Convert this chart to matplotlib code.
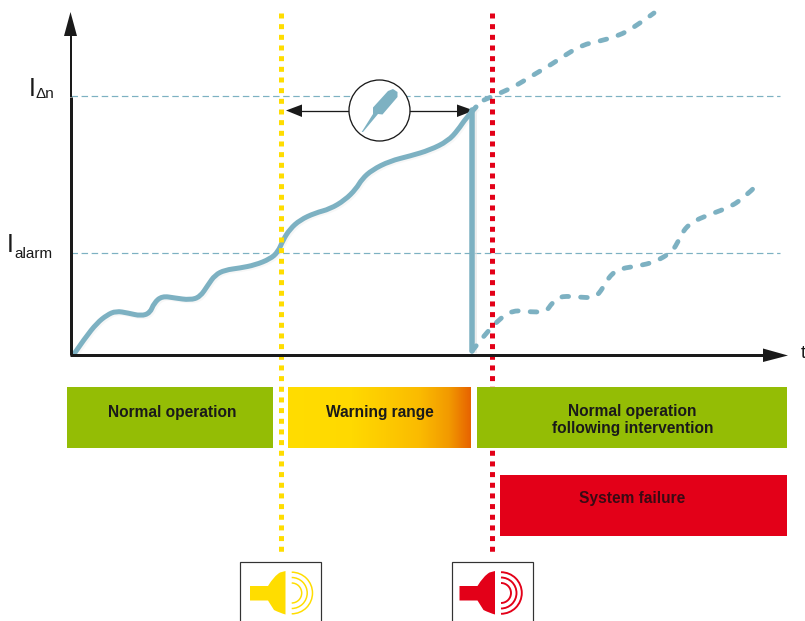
import numpy as np
import matplotlib
matplotlib.use("Agg")
import matplotlib.pyplot as plt
from matplotlib.path import Path
from matplotlib.patches import PathPatch, Rectangle, Circle, Polygon, Arc
from matplotlib.colors import LinearSegmentedColormap

plt.rcParams['font.family'] = ['Liberation Sans', 'DejaVu Sans']

W, H = 805, 621
PX = 0.72  # points per pixel at 100 dpi

# Values (image pixel coordinates)
main_x = [74, 85, 97, 107, 116, 128, 141, 150, 154, 162, 175, 190, 200, 208, 215, 225, 240, 255, 270, 278,
          283, 290, 300, 315, 330, 345, 356, 362, 372, 390, 410, 430, 448, 458, 466, 476]
main_y = [354, 338, 323, 315, 311, 313, 316, 313, 303, 296, 298, 300, 297, 285, 275, 270, 268, 265, 259, 252,
          240, 229, 220, 213, 209, 200, 189, 179, 170, 161, 156, 150, 141, 130, 118, 107]
drop_x = [472, 472]
drop_y = [110, 351]
upper_x = [484, 508, 522, 535, 552, 567, 582, 600, 618, 635, 654]
upper_y = [100, 90, 82, 74, 64, 54, 45, 41, 36, 27, 13]
lower_x = [472, 483, 498, 513, 531, 546, 552, 560, 578, 595, 603, 608, 618, 638, 655, 672, 679, 683, 692, 708, 725, 742, 759]
lower_y = [351, 337, 320, 310, 312, 312, 303, 296, 297, 298, 288, 278, 269, 266, 262, 252, 240, 231, 222, 215, 209, 200, 183]
levels = [96, 252.5]
level_labels = [("I", "\u0394n"), ("I", "alarm")]
phase_labels = ["Normal operation", "Warning range", "Normal operation\nfollowing intervention", "System failure"]

TEAL = "#7DB1C2"
YELLOW = "#FFDD00"
RED = "#E30018"
GREEN = "#94BD05"
BLACK = "#1A1A1A"

fig = plt.figure(figsize=(W / 100, H / 100), dpi=100)
ax = fig.add_axes([0, 0, 1, 1])
ax.set_xlim(0, W)
ax.set_ylim(H, 0)
ax.axis("off")


def smooth(xs, ys, **kw):
    """Quadratic curve through the midpoints, with the read points as controls."""
    p = np.column_stack([xs, ys]).astype(float)
    verts = [p[0]]
    codes = [Path.MOVETO]
    for i in range(1, len(p) - 1):
        end = p[i + 1] if i == len(p) - 2 else (p[i] + p[i + 1]) / 2
        verts += [p[i], end]
        codes += [Path.CURVE3, Path.CURVE3]
    ax.add_patch(PathPatch(Path(verts, codes), fill=False, **kw))


# threshold lines
for lv in levels:
    ax.plot([71, 780], [lv, lv], color=TEAL, lw=1.2 * PX, ls=(0, (5.4, 3.0)), zorder=1)

# soft shadows
ax.plot(np.array(drop_x) + 3, drop_y, color="#E2E2E2", lw=4 * PX, alpha=.6, zorder=2)
smooth(np.array(main_x) + 2, np.array(main_y) + 2, edgecolor="#F0F0F0", lw=4 * PX, alpha=.5, zorder=2)

# current curves
smooth(upper_x, upper_y, edgecolor=TEAL, lw=4.8 * PX, ls=(0, (1.4, 2.5)), capstyle="round", zorder=3)
smooth(lower_x, lower_y, edgecolor=TEAL, lw=4.8 * PX, ls=(0, (1.4, 2.5)), capstyle="round", zorder=3)
smooth(main_x, main_y, edgecolor=TEAL, lw=5 * PX, capstyle="round", joinstyle="round", zorder=4)
ax.plot(drop_x, drop_y, color=TEAL, lw=5.5 * PX, solid_capstyle="round", zorder=4)

# dotted limit lines
ax.plot([281, 281], [13, 552], color=YELLOW, lw=5 * PX, ls=(0, (1.0, 1.133)), dash_capstyle="butt", zorder=5)
ax.plot([492, 492], [13, 552], color=RED, lw=5 * PX, ls=(0, (1.0, 1.133)), dash_capstyle="butt", zorder=5)

# axes
ax.plot([71, 71], [355, 97], color=BLACK, lw=3 * PX, solid_capstyle="butt", zorder=6)
ax.plot([71, 71], [97, 30], color=BLACK, lw=2 * PX, solid_capstyle="butt", zorder=6)
ax.plot([69.5, 770], [355, 355], color=BLACK, lw=3 * PX, solid_capstyle="butt", zorder=6)
ax.add_patch(Polygon([[70.5, 12], [64, 36], [77, 36]], color=BLACK, lw=0, zorder=6))
ax.add_patch(Polygon([[788, 355.5], [763, 348.5], [763, 362]], color=BLACK, lw=0, zorder=6))
ax.text(801, 354, "t", fontsize=13.5, color=BLACK, va="center", ha="left", zorder=6, clip_on=False)

# level labels
ax.text(28.3, 95.5, level_labels[0][0], fontsize=18, color=BLACK, ha="left", va="baseline", zorder=6)
ax.text(35.5, 98.5, level_labels[0][1], fontsize=11, color=BLACK, ha="left", va="baseline", zorder=6)
ax.text(6.7, 252.5, level_labels[1][0], fontsize=18, color=BLACK, ha="left", va="baseline", zorder=6)
ax.text(14, 258, level_labels[1][1], fontsize=11, color=BLACK, ha="left", va="baseline", zorder=6)

# time-window arrow with screwdriver symbol
ax.plot([295, 465], [110.5, 110.5], color=BLACK, lw=1.3 * PX, zorder=3)
ax.add_patch(Polygon([[286, 110.5], [302, 104.5], [302, 117]], color=BLACK, lw=0, zorder=3))
ax.add_patch(Polygon([[474, 110.5], [457, 104.5], [457, 117]], color=BLACK, lw=0, zorder=3))
ax.add_patch(Circle((379.5, 110.5), 30.5, facecolor="white", edgecolor=BLACK, lw=1.3 * PX, zorder=4))
ax.add_patch(Polygon([[361.7, 132], [373, 114], [373, 107.5], [388, 91], [393, 89], [397.5, 92], [397.5, 97],
                      [382.5, 114.5], [378, 114], [363, 132]], closed=True, color=TEAL, lw=0, zorder=5))

# phase boxes
ax.add_patch(Rectangle((67, 387), 206, 61, color=GREEN, lw=0, zorder=7))
ax.add_patch(Rectangle((477, 387), 310, 61, color=GREEN, lw=0, zorder=7))
ax.add_patch(Rectangle((500, 475), 287, 61, color=RED, lw=0, zorder=7))
warn = LinearSegmentedColormap.from_list("warn", [(0, "#FFDD00"), (.35, "#FFD900"), (.72, "#FBBB00"), (.88, "#F29A00"), (1, "#E76300")])
ax.imshow(np.linspace(0, 1, 256)[None, :], cmap=warn, extent=(288, 470, 448, 387), aspect="auto", zorder=7)
ax.set_xlim(0, W)
ax.set_ylim(H, 0)
for (x, y, s, c) in [(172.5, 412, phase_labels[0], BLACK), (380, 412, phase_labels[1], BLACK),
                     (632.5, 420, phase_labels[2], BLACK), (632.5, 498, phase_labels[3], "#3A0A14")]:
    ax.text(x, y, s, fontsize=11.2, fontweight="bold", color=c, ha="center", va="center",
            linespacing=1.1, zorder=8)


# alarm symbols
def speaker(left, x0, cx, color, arc_lw):
    ax.add_patch(Rectangle((left, 561.5), 81, 80, facecolor="white", edgecolor="#333333", lw=1.2 * PX, zorder=3))
    body = Path([(x0, 586), (x0 + 18, 586), (x0 + 24, 576), (x0 + 30, 572.5), (x0 + 35.5, 571), (x0 + 35.5, 614.5),
                 (x0 + 30, 613), (x0 + 24, 610), (x0 + 18, 600.5), (x0, 600.5), (x0, 586)],
                [Path.MOVETO, Path.LINETO, Path.CURVE3, Path.CURVE3, Path.LINETO, Path.LINETO,
                 Path.CURVE3, Path.CURVE3, Path.LINETO, Path.LINETO, Path.CLOSEPOLY])
    ax.add_patch(PathPatch(body, facecolor=color, edgecolor="none", zorder=4))
    for r in (10, 15.5, 20.8):
        ax.add_patch(Arc((cx, 593), 2 * r, 2 * r, theta1=-90, theta2=90, color=color, lw=arc_lw * PX, zorder=4))


speaker(240, 250, 291.7, YELLOW, 1.5)
speaker(451.7, 459.5, 501, RED, 1.9)

fig.savefig("out.png", dpi=100)
